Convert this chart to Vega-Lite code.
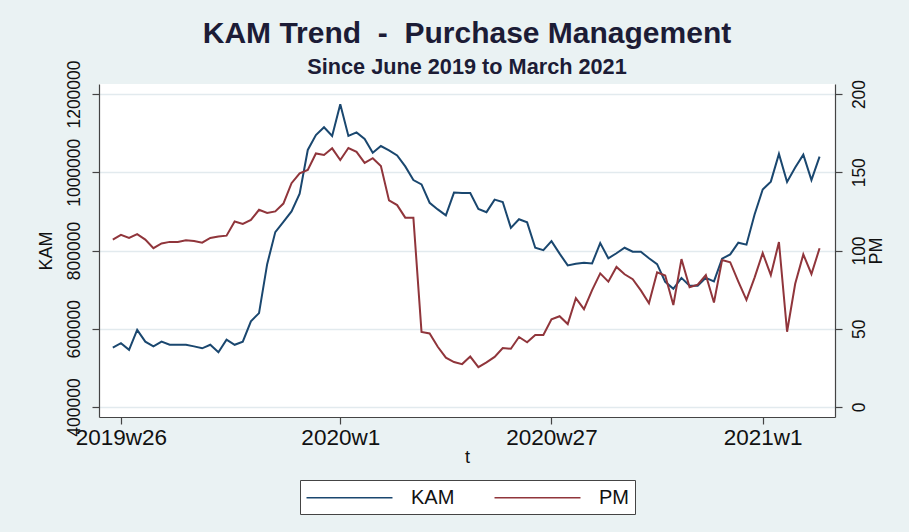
{
  "$schema": "https://vega.github.io/schema/vega-lite/v6.json",
  "width": 736,
  "height": 333,
  "autosize": {"type": "none"},
  "padding": {"left": 99, "top": 84, "right": 74, "bottom": 115},
  "background": "#eaf2f3",
  "title": {
    "text": "KAM Trend\u00a0\u00a0-\u00a0\u00a0Purchase Management",
    "subtitle": "Since June 2019 to March 2021",
    "anchor": "middle",
    "font": "Liberation Sans",
    "subtitleFont": "Liberation Sans",
    "fontSize": 30,
    "subtitleFontSize": 21.7,
    "fontWeight": "bold",
    "subtitleFontWeight": "bold",
    "color": "#1c1c36",
    "subtitleColor": "#1c1c36",
    "offset": -19,
    "subtitlePadding": 8
  },
  "config": {
    "view": {"stroke": null, "fill": "white"},
    "font": "Liberation Sans",
    "axis": {
      "labelFont": "Liberation Sans",
      "titleFont": "Liberation Sans",
      "labelFontSize": 17.5,
      "titleFontSize": 18,
      "titleFontWeight": "normal",
      "labelColor": "#111",
      "titleColor": "#111",
      "domainColor": "#444",
      "tickColor": "#444",
      "tickSize": 7,
      "domainWidth": 1.2,
      "tickWidth": 1.2
    },
    "legend": {
      "orient": "bottom",
      "direction": "horizontal",
      "layout": {"bottom": {"anchor": "middle"}},
      "symbolType": "M-4,0H4",
      "symbolSize": 462,
      "symbolOffset": 32,
      "symbolStrokeWidth": 1.5,
      "labelFontSize": 20,
      "labelFont": "Liberation Sans",
      "labelColor": "#111",
      "labelOffset": 50,
      "columnPadding": 36,
      "padding": 6,
      "strokeColor": "#444",
      "fillColor": "white",
      "offset": 13
    }
  },
  "data": {
    "values": [
      {"t": -1, "KAM": 552000, "PM": 107},
      {"t": 0, "KAM": 563000, "PM": 110},
      {"t": 1, "KAM": 546000, "PM": 108},
      {"t": 2, "KAM": 597000, "PM": 110.5},
      {"t": 3, "KAM": 567000, "PM": 107},
      {"t": 4, "KAM": 555000, "PM": 101.5},
      {"t": 5, "KAM": 567000, "PM": 104.5},
      {"t": 6, "KAM": 559000, "PM": 105.5},
      {"t": 7, "KAM": 559000, "PM": 105.5},
      {"t": 8, "KAM": 559000, "PM": 106.5},
      {"t": 9, "KAM": 555000, "PM": 106},
      {"t": 10, "KAM": 550000, "PM": 105},
      {"t": 11, "KAM": 559000, "PM": 108},
      {"t": 12, "KAM": 540000, "PM": 109},
      {"t": 13, "KAM": 572000, "PM": 109.5},
      {"t": 14, "KAM": 559000, "PM": 118.5},
      {"t": 15, "KAM": 567000, "PM": 117},
      {"t": 16, "KAM": 619000, "PM": 119.5},
      {"t": 17, "KAM": 640000, "PM": 126},
      {"t": 18, "KAM": 765000, "PM": 124},
      {"t": 19, "KAM": 847000, "PM": 125},
      {"t": 20, "KAM": 873000, "PM": 130},
      {"t": 21, "KAM": 900000, "PM": 143},
      {"t": 22, "KAM": 945000, "PM": 149.3},
      {"t": 23, "KAM": 1057000, "PM": 151.5},
      {"t": 24, "KAM": 1095000, "PM": 162},
      {"t": 25, "KAM": 1115000, "PM": 161},
      {"t": 26, "KAM": 1093000, "PM": 165.3},
      {"t": 27, "KAM": 1174000, "PM": 157.8},
      {"t": 28, "KAM": 1093000, "PM": 165.5},
      {"t": 29, "KAM": 1102000, "PM": 163},
      {"t": 30, "KAM": 1085000, "PM": 156},
      {"t": 31, "KAM": 1050000, "PM": 159},
      {"t": 32, "KAM": 1067000, "PM": 154},
      {"t": 33, "KAM": 1056000, "PM": 132},
      {"t": 34, "KAM": 1043000, "PM": 129},
      {"t": 35, "KAM": 1015000, "PM": 121},
      {"t": 36, "KAM": 980000, "PM": 121},
      {"t": 37, "KAM": 969000, "PM": 48},
      {"t": 38, "KAM": 922000, "PM": 47},
      {"t": 39, "KAM": 905000, "PM": 38.5},
      {"t": 40, "KAM": 890000, "PM": 31.5},
      {"t": 41, "KAM": 948000, "PM": 28.7},
      {"t": 42, "KAM": 947000, "PM": 27.4},
      {"t": 43, "KAM": 947000, "PM": 32.2},
      {"t": 44, "KAM": 906000, "PM": 25.5},
      {"t": 45, "KAM": 898000, "PM": 28.5},
      {"t": 46, "KAM": 930000, "PM": 32},
      {"t": 47, "KAM": 924000, "PM": 37.7},
      {"t": 48, "KAM": 858000, "PM": 37.2},
      {"t": 49, "KAM": 880000, "PM": 44.7},
      {"t": 50, "KAM": 872000, "PM": 41.3},
      {"t": 51, "KAM": 807000, "PM": 46},
      {"t": 52, "KAM": 801000, "PM": 46},
      {"t": 53, "KAM": 824000, "PM": 56},
      {"t": 54, "KAM": 792000, "PM": 58},
      {"t": 55, "KAM": 762000, "PM": 53},
      {"t": 56, "KAM": 766000, "PM": 69.5},
      {"t": 57, "KAM": 769000, "PM": 62.5},
      {"t": 58, "KAM": 767000, "PM": 74.7},
      {"t": 59, "KAM": 819000, "PM": 85.4},
      {"t": 60, "KAM": 780000, "PM": 80.1},
      {"t": 61, "KAM": 793000, "PM": 89.5},
      {"t": 62, "KAM": 807000, "PM": 84.8},
      {"t": 63, "KAM": 797000, "PM": 81.7},
      {"t": 64, "KAM": 797000, "PM": 74.5},
      {"t": 65, "KAM": 780000, "PM": 66.3},
      {"t": 66, "KAM": 765000, "PM": 86},
      {"t": 67, "KAM": 720000, "PM": 84},
      {"t": 68, "KAM": 702000, "PM": 65.2},
      {"t": 69, "KAM": 730000, "PM": 94.5},
      {"t": 70, "KAM": 710000, "PM": 76.5},
      {"t": 71, "KAM": 710000, "PM": 78.2},
      {"t": 72, "KAM": 730000, "PM": 84.3},
      {"t": 73, "KAM": 721000, "PM": 66.8},
      {"t": 74, "KAM": 779000, "PM": 93.9},
      {"t": 75, "KAM": 790000, "PM": 92.5},
      {"t": 76, "KAM": 820000, "PM": 80.1},
      {"t": 77, "KAM": 815000, "PM": 68.4},
      {"t": 78, "KAM": 892000, "PM": 82.7},
      {"t": 79, "KAM": 956000, "PM": 98.4},
      {"t": 80, "KAM": 976000, "PM": 84.3},
      {"t": 81, "KAM": 1047000, "PM": 105.4},
      {"t": 82, "KAM": 975000, "PM": 48.1},
      {"t": 83, "KAM": 1012000, "PM": 78.7},
      {"t": 84, "KAM": 1045000, "PM": 97.5},
      {"t": 85, "KAM": 980000, "PM": 85},
      {"t": 86, "KAM": 1040000, "PM": 101.4}
    ]
  },
  "encoding": {
    "x": {
      "field": "t",
      "type": "quantitative",
      "title": "t",
      "scale": {"domain": [-2.7, 87.9], "nice": false, "zero": false},
      "axis": {
        "values": [0, 27, 53, 79],
        "labelExpr": "datum.value == 0 ? '2019w26' : datum.value == 27 ? '2020w1' : datum.value == 53 ? '2020w27' : '2021w1'",
        "grid": false,
        "labelFontSize": 22.5,
        "labelPadding": 2,
        "titlePadding": 0,
        "labelFlush": false
      }
    }
  },
  "layer": [
    {
      "transform": [{"fold": ["KAM"], "as": ["series", "value"]}],
      "mark": {"type": "line", "strokeWidth": 2},
      "encoding": {
        "y": {
          "field": "value",
          "type": "quantitative",
          "title": "KAM",
          "scale": {"domain": [374440, 1225600], "nice": false, "zero": false},
          "axis": {
            "orient": "left",
            "values": [400000, 600000, 800000, 1000000, 1200000],
            "format": "d",
            "labelAngle": -90,
            "labelAlign": "center",
            "labelBaseline": "bottom",
            "labelPadding": 9,
            "titlePadding": 10,
            "grid": true,
            "gridColor": "#e2eaee",
            "gridWidth": 1.5
          }
        },
        "color": {
          "field": "series",
          "type": "nominal",
          "title": null,
          "scale": {"domain": ["KAM", "PM"], "range": ["#1a476f", "#90353b"]}
        }
      }
    },
    {
      "transform": [{"fold": ["PM"], "as": ["series", "value"]}],
      "mark": {"type": "line", "strokeWidth": 2},
      "encoding": {
        "y": {
          "field": "value",
          "type": "quantitative",
          "title": "PM",
          "scale": {"domain": [-6.4, 206.4], "nice": false, "zero": false},
          "axis": {
            "orient": "right",
            "values": [0, 50, 100, 150, 200],
            "labelAngle": -90,
            "labelAlign": "center",
            "labelBaseline": "top",
            "labelPadding": 8,
            "titleAngle": -90,
            "titleBaseline": "top",
            "titlePadding": 0,
            "grid": false
          }
        },
        "color": {
          "field": "series",
          "type": "nominal",
          "title": null,
          "scale": {"domain": ["KAM", "PM"], "range": ["#1a476f", "#90353b"]}
        }
      }
    }
  ],
  "resolve": {"scale": {"y": "independent"}}
}
